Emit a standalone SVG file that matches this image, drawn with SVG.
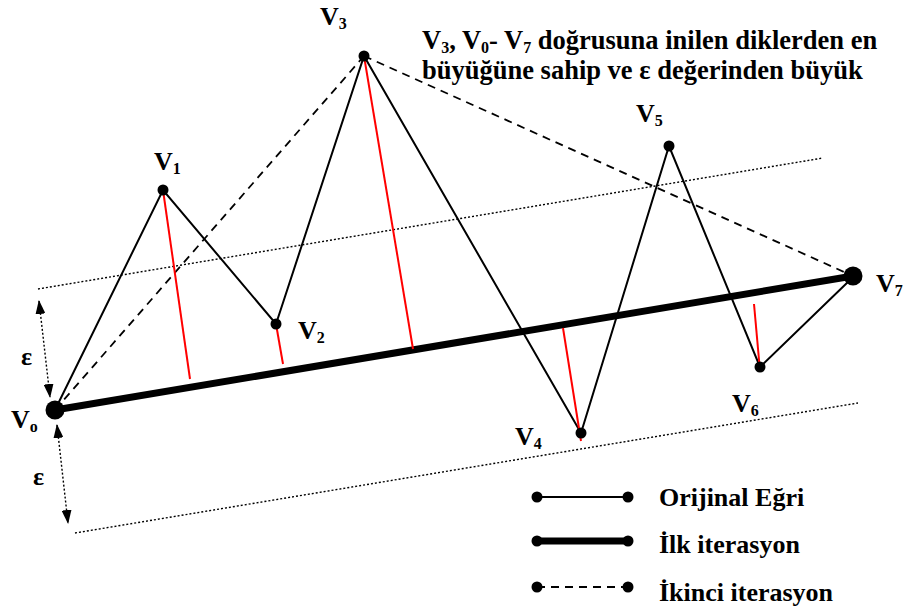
<svg xmlns="http://www.w3.org/2000/svg" width="904" height="607" viewBox="0 0 904 607">
<style>
.t{font-family:'Liberation Serif';font-weight:700;font-size:26px;fill:#000}
.h{font-size:26.5px}
.s{font-size:16px}
.orig{stroke:#000;stroke-width:2;fill:none}
.thick{stroke:#000;stroke-width:7;fill:none}
.dash{stroke:#000;stroke-width:1.8;fill:none;stroke-dasharray:8 6}
.red{stroke:#f00;stroke-width:2}
.dot{stroke:#000;stroke-width:1.4;stroke-dasharray:2 2;fill:none}
</style>
<defs>
<marker id="ah" viewBox="0 0 14 10" refX="13" refY="5" markerWidth="14" markerHeight="10" markerUnits="userSpaceOnUse" orient="auto-start-reverse">
<path d="M0,0 L14,5 L0,10 z" fill="#000"/>
</marker>
</defs>
<rect width="904" height="607" fill="#fff"/>
<g id="tolerance">
<line class="dot" x1="38" y1="289" x2="823" y2="158"/>
<line class="dot" x1="75" y1="533" x2="858" y2="403"/>
<line class="dot" x1="39" y1="301" x2="50" y2="397" marker-start="url(#ah)" marker-end="url(#ah)"/>
<line class="dot" x1="57" y1="425" x2="68" y2="523" marker-start="url(#ah)" marker-end="url(#ah)"/>
<text class="t" x="21" y="365">ε</text>
<text class="t" x="33" y="485">ε</text>
</g>
<g id="connectors">
<line class="dash" x1="55" y1="410" x2="364" y2="56"/>
<line class="dash" x1="364" y1="56" x2="853" y2="276"/>
<line class="thick" x1="55" y1="410" x2="853" y2="276"/>
<polyline class="orig" points="55,410 163,190 276,324 364,56 581,433 669,146 760,367 850,280"/>
<line class="red" x1="163" y1="190" x2="190" y2="379"/>
<line class="red" x1="276" y1="324" x2="283" y2="364"/>
<line class="red" x1="364" y1="56" x2="413" y2="349"/>
<line class="red" x1="581" y1="441" x2="563" y2="328"/>
<line class="red" x1="760" y1="371" x2="754" y2="304"/>
</g>
<g id="v0"><circle cx="55" cy="410" r="9.5"/><text class="t" x="11" y="428">V<tspan class="s" dy="4">o</tspan></text></g>
<g id="v1"><circle cx="163" cy="190" r="5.5"/><text class="t" x="154" y="170">V<tspan class="s" dy="4">1</tspan></text></g>
<g id="v2"><circle cx="276" cy="324" r="5.5"/><text class="t" x="298" y="339">V<tspan class="s" dy="4">2</tspan></text></g>
<g id="v3"><circle cx="364" cy="56" r="5.5"/><text class="t" x="320" y="25">V<tspan class="s" dy="4">3</tspan></text></g>
<g id="v4"><circle cx="581" cy="433" r="5.5"/><text class="t" x="515" y="445">V<tspan class="s" dy="4">4</tspan></text></g>
<g id="v5"><circle cx="669" cy="146" r="5.5"/><text class="t" x="636" y="122">V<tspan class="s" dy="4">5</tspan></text></g>
<g id="v6"><circle cx="760" cy="367" r="5.5"/><text class="t" x="732" y="412">V<tspan class="s" dy="4">6</tspan></text></g>
<g id="v7"><circle cx="853" cy="276" r="9.5"/><text class="t" x="876" y="292">V<tspan class="s" dy="4">7</tspan></text></g>
<g id="note">
<text class="t h" x="422" y="49">V<tspan class="s" dy="4">3</tspan><tspan dy="-4">, V</tspan><tspan class="s" dy="4">0</tspan><tspan dy="-4">- V</tspan><tspan class="s" dy="4">7</tspan><tspan dy="-4"> doğrusuna inilen diklerden en</tspan></text>
<text class="t h" x="422" y="79">büyüğüne sahip ve ε değerinden büyük</text>
</g>
<g id="legend">
<line class="orig" x1="537" y1="497" x2="628" y2="497"/><circle cx="537" cy="497" r="5.5"/><circle cx="628" cy="497" r="5.5"/>
<text class="t" x="659" y="506">Orijinal Eğri</text>
<line class="thick" x1="537" y1="541" x2="628" y2="541"/><circle cx="537" cy="541" r="5.5"/><circle cx="628" cy="541" r="5.5"/>
<text class="t" x="659" y="553">İlk iterasyon</text>
<line class="dash" x1="537" y1="587" x2="628" y2="587"/><circle cx="537" cy="587" r="5.5"/><circle cx="628" cy="587" r="5.5"/>
<text class="t" x="659" y="601">İkinci iterasyon</text>
</g>
</svg>
